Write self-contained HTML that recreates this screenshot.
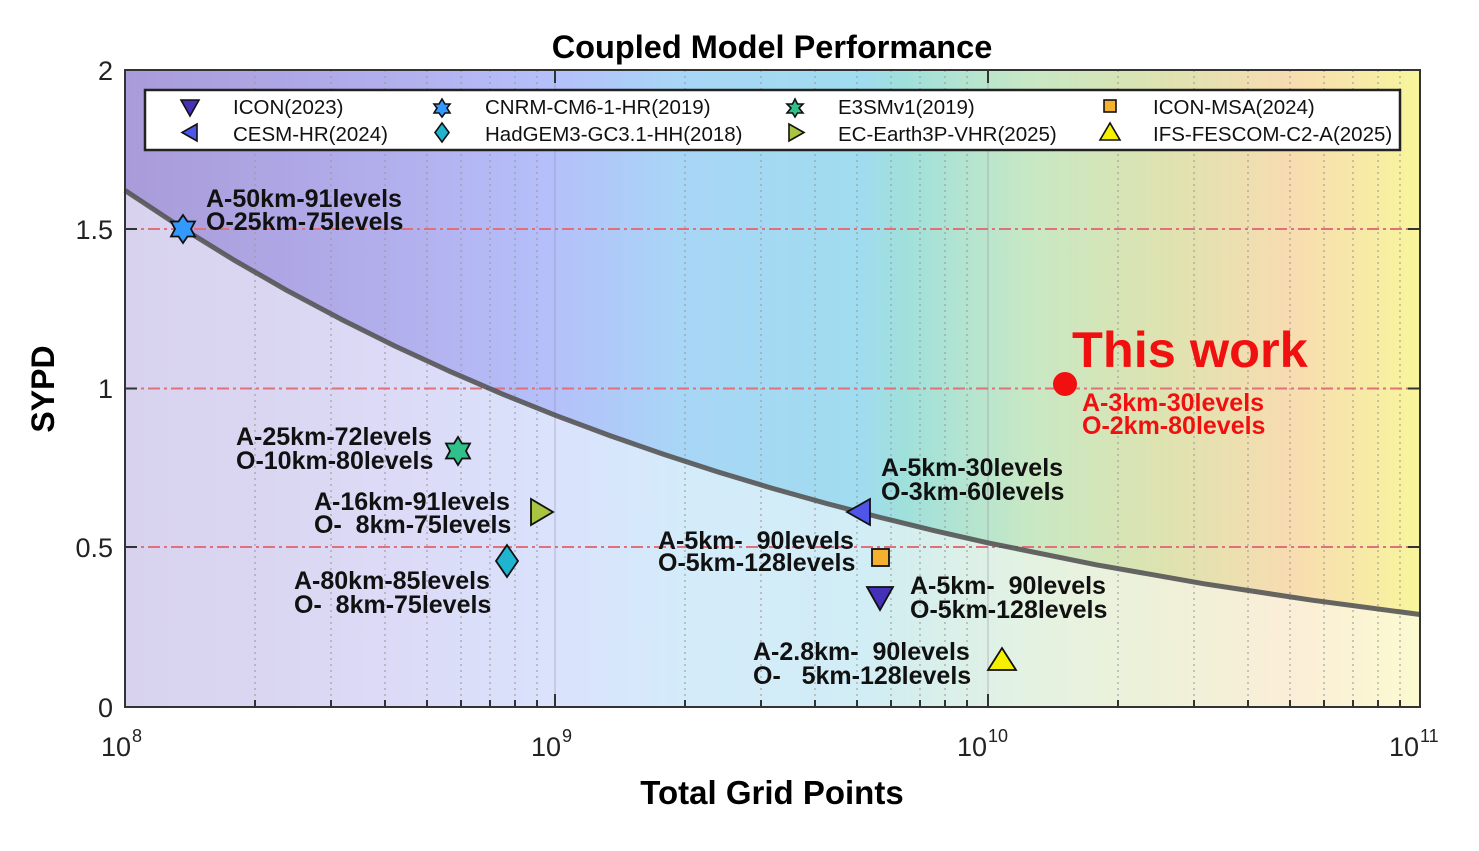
<!DOCTYPE html>
<html><head><meta charset="utf-8"><style>
body{margin:0;background:#fff;width:1479px;height:846px;overflow:hidden}
svg{font-family:"Liberation Sans",Arial,sans-serif}
.lb{font-weight:bold;font-size:25px;fill:#111}
.lg{font-size:20.5px;fill:#111}
.tk{font-size:27px;fill:#222}
</style></head><body>
<svg width="1479" height="846" viewBox="0 0 1479 846" xmlns="http://www.w3.org/2000/svg">
<defs>
<linearGradient id="gs" x1="125" x2="1420" y1="0" y2="0" gradientUnits="userSpaceOnUse">
<stop offset="0" stop-color="#a99bd9"/>
<stop offset="0.2" stop-color="#b2aeec"/>
<stop offset="0.33" stop-color="#b5c0fa"/>
<stop offset="0.43" stop-color="#a8d6f6"/>
<stop offset="0.57" stop-color="#a0dcef"/>
<stop offset="0.6" stop-color="#9fe0dc"/>
<stop offset="0.7" stop-color="#c8e8c4"/>
<stop offset="0.8" stop-color="#dde3b0"/>
<stop offset="0.9" stop-color="#f7dcb0"/>
<stop offset="0.95" stop-color="#f7e8a8"/>
<stop offset="1" stop-color="#f8f69c"/>
</linearGradient>
<linearGradient id="gl" x1="125" x2="1420" y1="0" y2="0" gradientUnits="userSpaceOnUse">
<stop offset="0" stop-color="#d8d2ee"/>
<stop offset="0.2" stop-color="#dcdaf6"/>
<stop offset="0.33" stop-color="#dae2fc"/>
<stop offset="0.43" stop-color="#d4ebfa"/>
<stop offset="0.57" stop-color="#d1edf6"/>
<stop offset="0.6" stop-color="#d4eeee"/>
<stop offset="0.7" stop-color="#e4f2e2"/>
<stop offset="0.8" stop-color="#eef1d8"/>
<stop offset="0.9" stop-color="#fbeed8"/>
<stop offset="1" stop-color="#fbfad0"/>
</linearGradient>
</defs>
<text x="772" y="58" text-anchor="middle" style="font-weight:bold;font-size:32.5px">Coupled Model Performance</text>
<rect x="125" y="70" width="1295" height="637" fill="url(#gl)"/>
<path d="M125,70 L125,190.4 L179,226.1 L232.9,259.4 L286.9,290.4 L340.8,319.1 L394.8,346 L448.8,370.9 L502.7,394.2 L556.7,415.8 L610.6,435.9 L664.6,454.6 L718.5,472.1 L772.5,488.4 L826.5,503.5 L880.4,517.5 L934.4,530.7 L988.3,542.9 L1096.3,564.8 L1204.2,583.8 L1312.1,600.2 L1420,614.5 L1420,70 Z" fill="url(#gs)"/>
<g stroke="#999" stroke-width="1.3" stroke-dasharray="2,4" opacity="0.8">
<line x1="255" y1="70" x2="255" y2="707"/><line x1="331" y1="70" x2="331" y2="707"/><line x1="385" y1="70" x2="385" y2="707"/><line x1="427" y1="70" x2="427" y2="707"/><line x1="461" y1="70" x2="461" y2="707"/><line x1="490" y1="70" x2="490" y2="707"/><line x1="515" y1="70" x2="515" y2="707"/><line x1="537" y1="70" x2="537" y2="707"/>
<line x1="685" y1="70" x2="685" y2="707"/><line x1="761" y1="70" x2="761" y2="707"/><line x1="815" y1="70" x2="815" y2="707"/><line x1="857" y1="70" x2="857" y2="707"/><line x1="891" y1="70" x2="891" y2="707"/><line x1="920" y1="70" x2="920" y2="707"/><line x1="945" y1="70" x2="945" y2="707"/><line x1="967" y1="70" x2="967" y2="707"/>
<line x1="1118" y1="70" x2="1118" y2="707"/><line x1="1194" y1="70" x2="1194" y2="707"/><line x1="1248" y1="70" x2="1248" y2="707"/><line x1="1290" y1="70" x2="1290" y2="707"/><line x1="1324" y1="70" x2="1324" y2="707"/><line x1="1353" y1="70" x2="1353" y2="707"/><line x1="1378" y1="70" x2="1378" y2="707"/><line x1="1400" y1="70" x2="1400" y2="707"/>
</g>
<g stroke="#889" stroke-width="1" opacity="0.5"><line x1="555" y1="70" x2="555" y2="707"/><line x1="988" y1="70" x2="988" y2="707"/></g>
<g stroke="#e0707a" stroke-width="2" stroke-dasharray="12,4,3,4">
<line x1="125" y1="229" x2="1420" y2="229"/><line x1="125" y1="388.5" x2="1420" y2="388.5"/><line x1="125" y1="547" x2="1420" y2="547"/>
</g>
<polyline points="125,190.4 179,226.1 232.9,259.4 286.9,290.4 340.8,319.1 394.8,346 448.8,370.9 502.7,394.2 556.7,415.8 610.6,435.9 664.6,454.6 718.5,472.1 772.5,488.4 826.5,503.5 880.4,517.5 934.4,530.7 988.3,542.9 1096.3,564.8 1204.2,583.8 1312.1,600.2 1420,614.5" fill="none" stroke="#555" stroke-width="5" stroke-linejoin="round" opacity="0.9"/>
<rect x="125" y="70" width="1295" height="637" fill="none" stroke="#333" stroke-width="2"/>
<g stroke="#333" stroke-width="2">
<line x1="555" y1="707" x2="555" y2="694"/><line x1="988" y1="707" x2="988" y2="694"/><line x1="555" y1="70" x2="555" y2="83"/><line x1="988" y1="70" x2="988" y2="83"/>
<line x1="255" y1="707" x2="255" y2="700"/><line x1="331" y1="707" x2="331" y2="700"/><line x1="385" y1="707" x2="385" y2="700"/><line x1="427" y1="707" x2="427" y2="700"/><line x1="461" y1="707" x2="461" y2="700"/><line x1="490" y1="707" x2="490" y2="700"/><line x1="515" y1="707" x2="515" y2="700"/><line x1="537" y1="707" x2="537" y2="700"/>
<line x1="685" y1="707" x2="685" y2="700"/><line x1="761" y1="707" x2="761" y2="700"/><line x1="815" y1="707" x2="815" y2="700"/><line x1="857" y1="707" x2="857" y2="700"/><line x1="891" y1="707" x2="891" y2="700"/><line x1="920" y1="707" x2="920" y2="700"/><line x1="945" y1="707" x2="945" y2="700"/><line x1="967" y1="707" x2="967" y2="700"/>
<line x1="1118" y1="707" x2="1118" y2="700"/><line x1="1194" y1="707" x2="1194" y2="700"/><line x1="1248" y1="707" x2="1248" y2="700"/><line x1="1290" y1="707" x2="1290" y2="700"/><line x1="1324" y1="707" x2="1324" y2="700"/><line x1="1353" y1="707" x2="1353" y2="700"/><line x1="1378" y1="707" x2="1378" y2="700"/><line x1="1400" y1="707" x2="1400" y2="700"/>
<line x1="125" y1="229" x2="137" y2="229"/><line x1="125" y1="388.5" x2="137" y2="388.5"/><line x1="125" y1="547" x2="137" y2="547"/>
<line x1="1420" y1="229" x2="1408" y2="229"/><line x1="1420" y1="388.5" x2="1408" y2="388.5"/><line x1="1420" y1="547" x2="1408" y2="547"/>
</g>
<g class="tk" text-anchor="end">
<text x="113" y="80">2</text><text x="113" y="239">1.5</text><text x="113" y="398">1</text><text x="113" y="557">0.5</text><text x="113" y="717">0</text>
</g>
<g class="tk">
<text x="101" y="756">10</text><text x="132" y="742" font-size="18">8</text>
<text x="531" y="756">10</text><text x="562" y="742" font-size="18">9</text>
<text x="957" y="756">10</text><text x="988" y="742" font-size="18">10</text>
<text x="1389" y="756">10</text><text x="1420" y="742" font-size="18">11</text>
</g>
<text x="772" y="804" text-anchor="middle" style="font-weight:bold;font-size:33px">Total Grid Points</text>
<text transform="translate(54,389) rotate(-90)" text-anchor="middle" style="font-weight:bold;font-size:32px">SYPD</text>
<rect x="145" y="90" width="1255" height="60" fill="#fff" stroke="#222" stroke-width="2.5"/>
<g class="lg">
<text x="233" y="114">ICON(2023)</text><text x="233" y="141">CESM-HR(2024)</text>
<text x="485" y="114">CNRM-CM6-1-HR(2019)</text><text x="485" y="141">HadGEM3-GC3.1-HH(2018)</text>
<text x="838" y="114">E3SMv1(2019)</text><text x="838" y="141">EC-Earth3P-VHR(2025)</text>
<text x="1153" y="114">ICON-MSA(2024)</text><text x="1153" y="141">IFS-FESCOM-C2-A(2025)</text>
</g>
<g stroke="#111" stroke-width="1.6">
<path d="M181,100 L199,100 L190,116 Z" fill="#4530b8"/>
<path d="M197,124 L197,141 L182,132.5 Z" fill="#4f55e8"/>
<path d="M442,99 L445,104 L450,104 L447,108 L450,113 L445,113 L442,117 L439,113 L434,113 L437,108 L434,104 L439,104 Z" fill="#3399ff"/>
<path d="M442,123 L449,132.5 L442,142 L435,132.5 Z" fill="#1fb5d0"/>
<path d="M795,99 L797.5,104 L803,104 L799,108 L803,113 L797.5,113 L795,117 L792.5,113 L787,113 L791,108 L787,104 L792.5,104 Z" fill="#2ec28a"/>
<path d="M789,124 L789,141 L804,132.5 Z" fill="#a8c440"/>
<rect x="1104" y="100" width="12" height="12" fill="#f5b030"/>
<path d="M1100,140 L1120,140 L1110,123 Z" fill="#f5f000"/>
</g>
<g stroke="#111" stroke-width="1.8">
<path d="M183,215 L187.5,221.5 L195,221.5 L191,229 L195,236.5 L187.5,236.5 L183,243 L178.5,236.5 L171,236.5 L175,229 L171,221.5 L178.5,221.5 Z" fill="#3399ff"/>
<path d="M458,437 L462,443.5 L470,443.5 L466,451 L470,458.5 L462,458.5 L458,465 L454,458.5 L446,458.5 L450,451 L446,443.5 L454,443.5 Z" fill="#2ec28a"/>
<path d="M531,499 L531,525 L553,512 Z" fill="#a8c440"/>
<path d="M507,545 L518,561 L507,577 L496,561 Z" fill="#1fb5d0"/>
<path d="M870,499 L870,525 L847,512 Z" fill="#4f55e8"/>
<rect x="872" y="549" width="17" height="17" fill="#f5b030"/>
<path d="M867,587 L893,587 L880,610 Z" fill="#4530b8"/>
<path d="M988,670 L1016,670 L1002,648 Z" fill="#f5f000"/>
</g>
<circle cx="1065" cy="384" r="12" fill="#f01010"/>
<g class="lb">
<text x="206" y="207">A-50km-91levels</text><text x="206" y="230">O-25km-75levels</text>
<text x="236" y="445">A-25km-72levels</text><text x="236" y="469">O-10km-80levels</text>
<text x="314" y="510">A-16km-91levels</text><text x="314" y="533">O-&#160;&#160;8km-75levels</text>
<text x="294" y="589">A-80km-85levels</text><text x="294" y="613">O-&#160;&#160;8km-75levels</text>
<text x="881" y="476">A-5km-30levels</text><text x="881" y="500">O-3km-60levels</text>
<text x="658" y="549">A-5km-&#160;&#160;90levels</text><text x="658" y="571">O-5km-128levels</text>
<text x="910" y="594">A-5km-&#160;&#160;90levels</text><text x="910" y="618">O-5km-128levels</text>
<text x="753" y="660">A-2.8km-&#160;&#160;90levels</text><text x="753" y="684">O-&#160;&#160;&#160;5km-128levels</text>
</g>
<text x="1072" y="367" style="font-weight:bold;font-size:50.5px;fill:#f01010">This work</text>
<text x="1082" y="411" style="font-weight:bold;font-size:25px;fill:#f01010">A-3km-30levels</text>
<text x="1082" y="434" style="font-weight:bold;font-size:25px;fill:#f01010">O-2km-80levels</text>
</svg>
</body></html>
